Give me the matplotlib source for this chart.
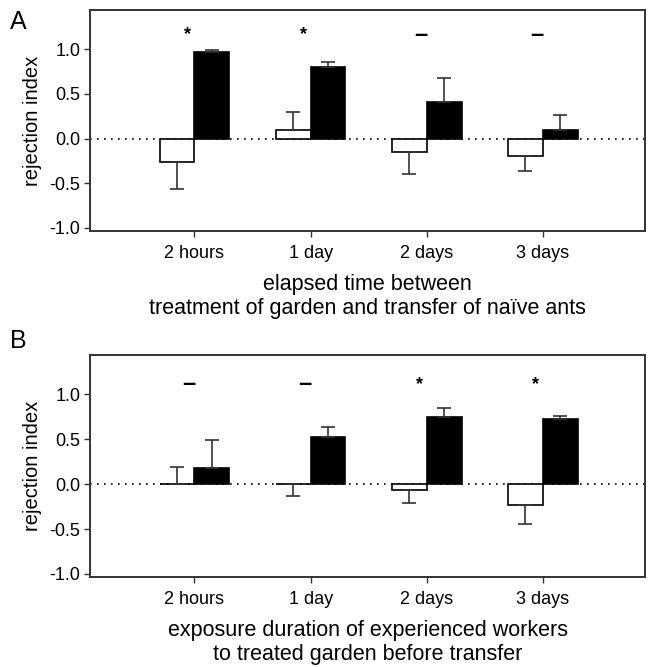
import matplotlib
matplotlib.use("Agg")
import matplotlib.pyplot as plt
import numpy as np

plt.rcParams['font.family'] = ['Liberation Sans', 'DejaVu Sans']

categories = ["2 hours", "1 day", "2 days", "3 days"]

# Panel A: elapsed time between treatment and transfer
a_white = [-0.265, 0.093, -0.155, -0.199]
a_white_err = [-0.298, 0.202, -0.242, -0.161]   # signed: + up, - down
a_black = [0.965, 0.806, 0.413, 0.093]
a_black_err = [0.022, 0.055, 0.265, 0.169]
a_sig = ["*", "*", "–", "–"]

# Panel B: exposure duration of experienced workers
b_white = [0.0, 0.0, -0.07, -0.23]
b_white_err = [0.19, -0.13, -0.14, -0.21]
b_black = [0.18, 0.53, 0.75, 0.73]
b_black_err = [0.31, 0.11, 0.10, 0.03]
b_sig = ["–", "–", "*", "*"]

xlabel_a = "elapsed time between\ntreatment of garden and transfer of naïve ants"
xlabel_b = "exposure duration of experienced workers\nto treated garden before transfer"

fig = plt.figure(figsize=(6.49, 6.67), dpi=100)
ax_a = fig.add_axes([90/649, (667-231)/667, 555/649, 221/667])
ax_b = fig.add_axes([90/649, (667-577)/667, 555/649, 222/667])

W = 0.30
spine_col = "#333333"


def draw(ax, white, werr, black, berr, sig, sig_y, xlabel):
    x = np.arange(len(categories))
    xw = x - W / 2
    xb = x + W / 2
    ax.axhline(0, color="black", linestyle=(0, (1, 3.2)), linewidth=1.2, zorder=1)
    ax.bar(xw, white, width=W, color="white", edgecolor="black", linewidth=1.2, zorder=2)
    ax.bar(xb, black, width=W, color="black", edgecolor="black", linewidth=1.2, zorder=2)
    for xi, m, e in zip(xw, white, werr):
        lo = [max(-e, 0)]
        hi = [max(e, 0)]
        ax.errorbar([xi], [m], yerr=[lo, hi], fmt="none", ecolor=spine_col,
                    elinewidth=1.2, capsize=5, capthick=1.2, zorder=3)
    for xi, m, e in zip(xb, black, berr):
        lo = [max(-e, 0)]
        hi = [max(e, 0)]
        ax.errorbar([xi], [m], yerr=[lo, hi], fmt="none", ecolor=spine_col,
                    elinewidth=1.2, capsize=5, capthick=1.2, zorder=3)
    for xi, s in zip(x, sig):
        if s == "*":
            ax.text(xi - 0.06, sig_y - 0.01, s, ha="center", va="center", fontsize=13,
                    fontweight="bold")
        else:
            ax.text(xi - 0.05, sig_y, s, ha="center", va="center", fontsize=17,
                    fontweight="bold")
    ax.set_xlim(-0.9, 3.88)
    ax.set_ylim(-1.035, 1.44)
    ax.set_yticks([-1.0, -0.5, 0.0, 0.5, 1.0])
    ax.set_yticklabels(["-1.0", "-0.5", "0.0", "0.5", "1.0"])
    ax.set_xticks(x)
    ax.set_xticklabels(categories)
    ax.tick_params(axis="both", direction="out", length=4, width=1.0,
                   color=spine_col, labelsize=13, pad=3)
    ax.tick_params(axis="x", pad=6)
    for sp in ax.spines.values():
        sp.set_color(spine_col)
        sp.set_linewidth(1.4)
    ax.set_ylabel("rejection index", fontsize=14.5, labelpad=5)
    ax.set_xlabel(xlabel, fontsize=15.5, linespacing=1.15, labelpad=9)


draw(ax_a, a_white, a_white_err, a_black, a_black_err, a_sig, 1.17, xlabel_a)
draw(ax_b, b_white, b_white_err, b_black, b_black_err, b_sig, 1.12, xlabel_b)

fig.text(18/649, 1 - 22/667, "A", fontsize=18, ha="center", va="center")
fig.text(18/649, 1 - 341/667, "B", fontsize=18, ha="center", va="center")

fig.savefig("out.png", dpi=100)
